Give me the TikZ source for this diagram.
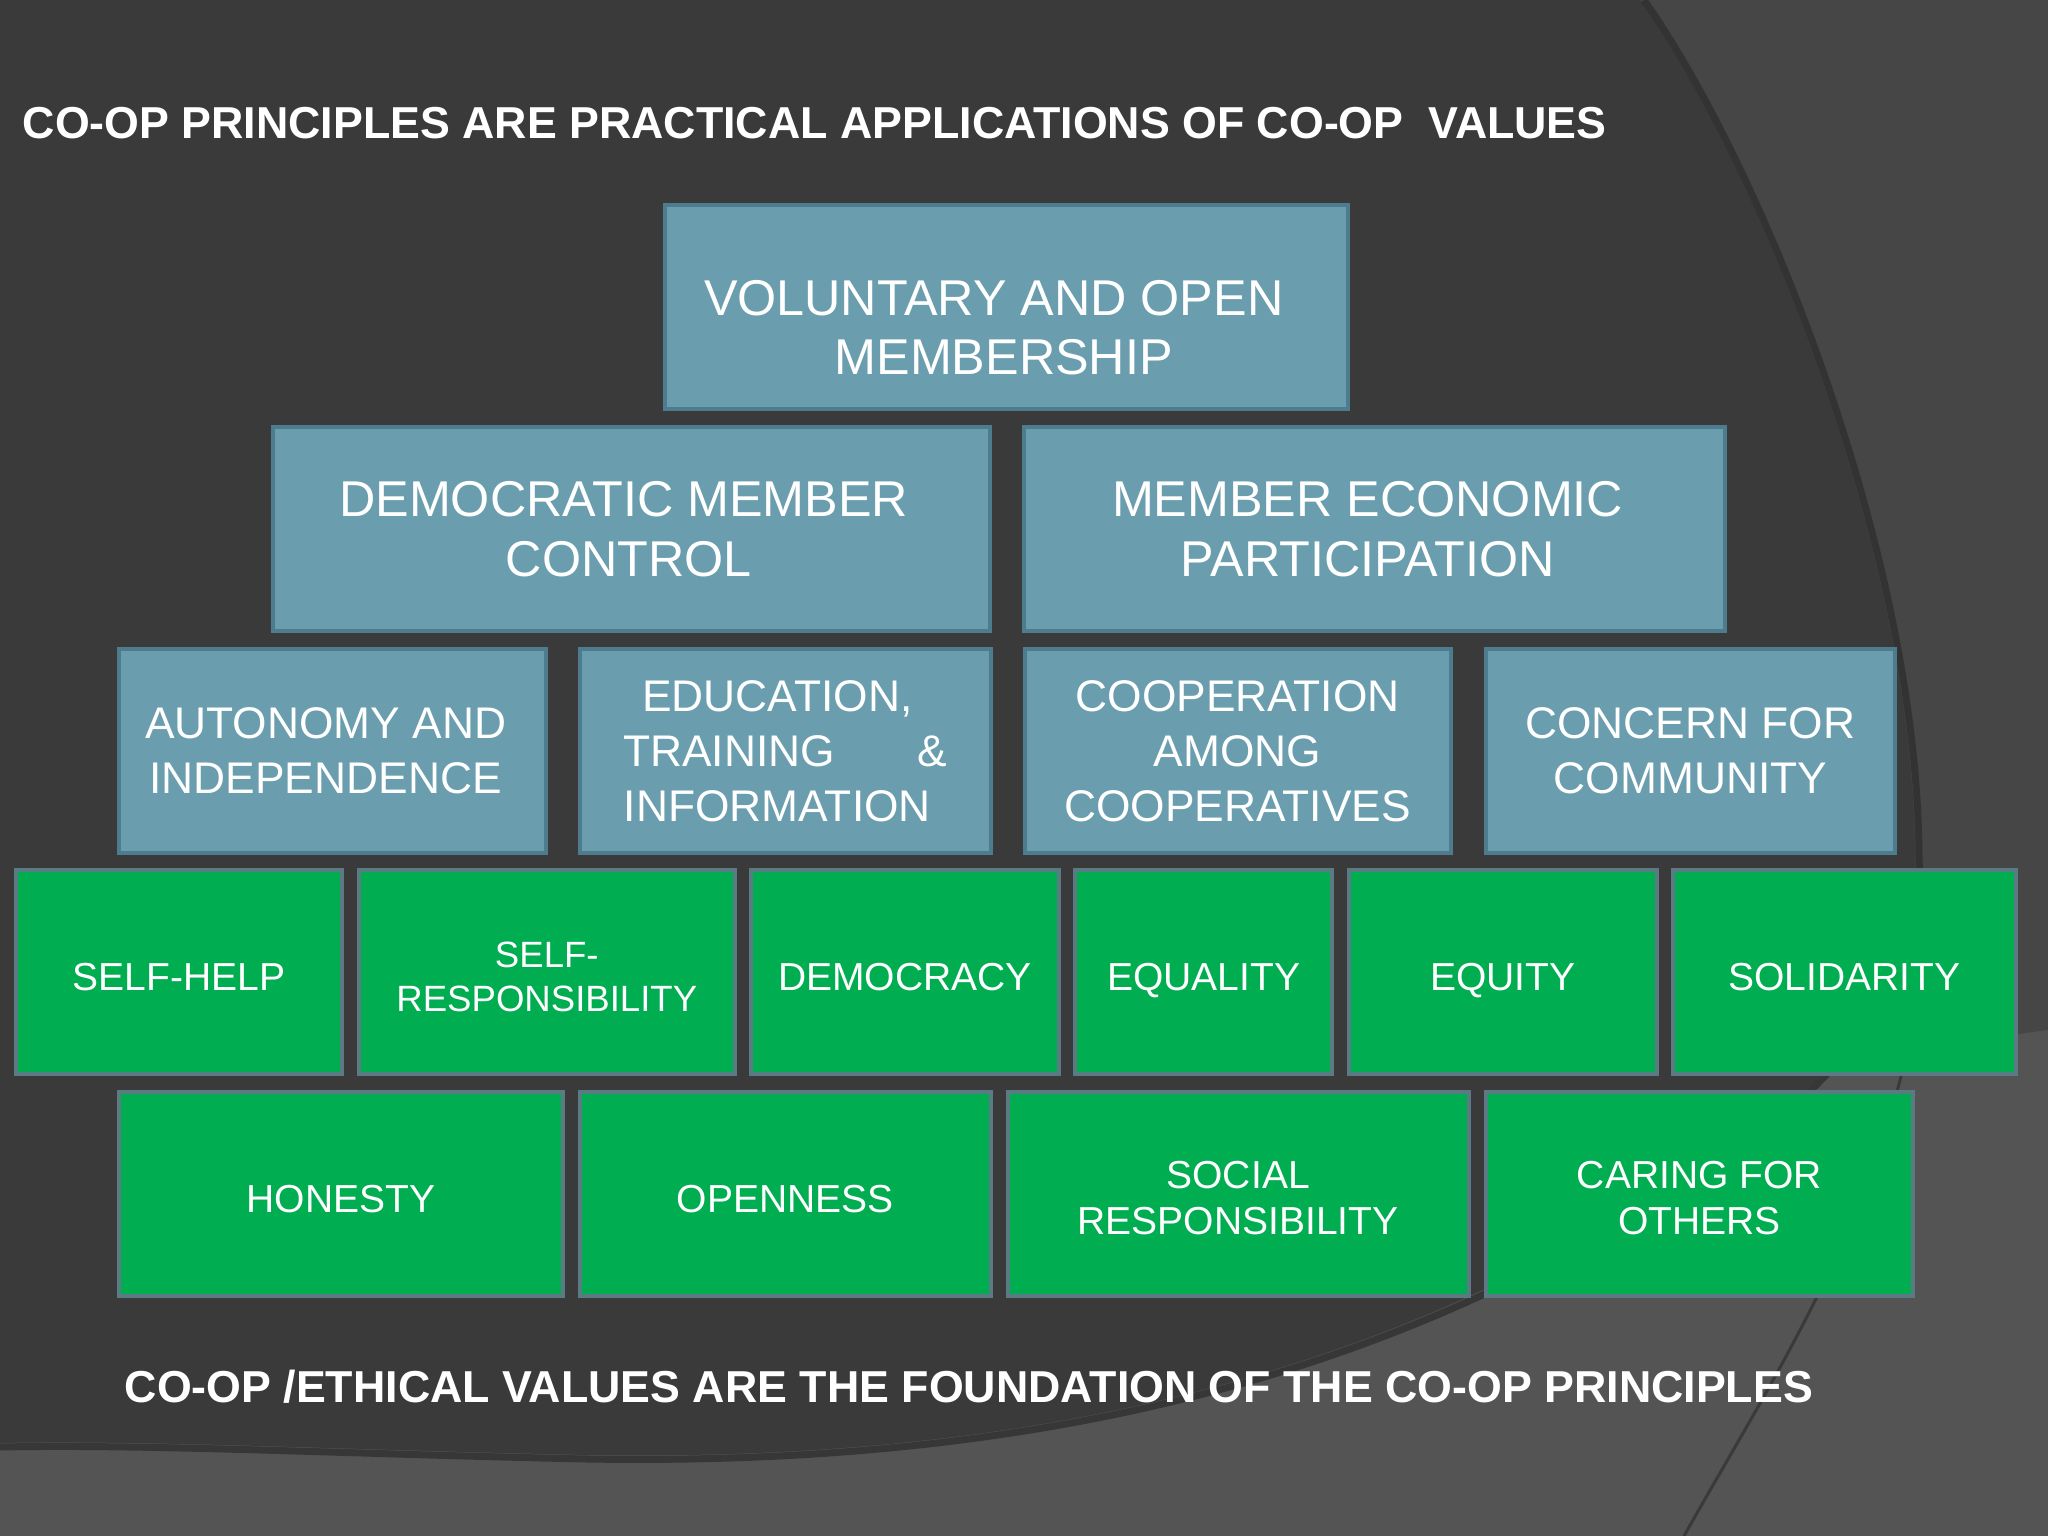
\documentclass[tikz,border=0pt]{standalone}
\usepackage{fontspec}
\setmainfont{Liberation Sans}
\usetikzlibrary{positioning}
\definecolor{bgdark}{RGB}{58,58,59}
\definecolor{bgright}{RGB}{70,70,71}
\definecolor{bglight}{RGB}{84,84,84}
\definecolor{bgshade}{RGB}{44,44,45}
\definecolor{tealfill}{RGB}{106,158,174}
\definecolor{tealline}{RGB}{78,124,143}
\definecolor{greenfill}{RGB}{0,173,80}
\definecolor{greenline}{RGB}{90,122,132}
\tikzstyle{principle} = [rectangle, anchor=north west, minimum height=2.04cm, inner sep=0pt, outer sep=0pt, align=center, text=white, draw=tealline, line width=0.04cm, fill=tealfill]
\tikzstyle{valuebox} = [rectangle, anchor=north west, minimum height=2.04cm, inner sep=0pt, outer sep=0pt, align=center, text=white, draw=greenline, line width=0.04cm, fill=greenfill, font=\fontsize{11.1pt}{13.1pt}\selectfont]
\tikzstyle{oneline} = [text height=0.36cm, text depth=0pt]
\tikzstyle{bigtext} = [font=\fontsize{14.3pt}{17pt}\selectfont]
\tikzstyle{midtext} = [font=\fontsize{12.6pt}{15.6pt}\selectfont]
\tikzstyle{headline} = [anchor=base west, inner sep=0pt, text=white, font=\fontsize{12.72pt}{15pt}\selectfont\bfseries]

\begin{document}
\begin{tikzpicture}[x=0.01cm, y=-0.01cm]
\useasboundingbox (0,0) rectangle (2048,1536);
% Background
\fill[bgright] (0,0) rectangle (2048,1536);
\fill[bglight] (0,1536) -- (0,1300) -- (1900,1050) -- (2048,1030) -- (2048,1536) -- cycle;
\draw[bgdark, line width=0.03cm] (1905,1060) .. controls (1860,1250) and (1760,1400) .. (1684,1536);
\fill[bgdark] (0,0) -- (1640,0) .. controls (1760,170) and (1915,560) .. (1915,860)
  .. controls (1925,1000) and (1800,1150) .. (1476,1293)
  .. controls (1200,1420) and (900,1460) .. (587,1455)
  .. controls (350,1450) and (150,1440) .. (0,1443) -- cycle;
\draw[bgshade, opacity=0.7, line width=0.07cm] (1644,0) .. controls (1764,170) and (1919,560) .. (1919,860)
  .. controls (1929,1000) and (1803,1153) .. (1478,1297)
  .. controls (1200,1424) and (900,1464) .. (587,1459)
  .. controls (350,1454) and (150,1444) .. (0,1447);

% Headlines
\node (toptitle) [headline] at (22,138) {CO-OP PRINCIPLES ARE PRACTICAL APPLICATIONS OF CO-OP~ VALUES};
\node (foottitle) [headline] at (124,1402) {CO-OP /ETHICAL VALUES ARE THE FOUNDATION OF THE CO-OP PRINCIPLES};

% Row 1
\node (vom) [principle, bigtext, minimum width=6.83cm] at (665,205) {\hspace*{-0.26cm}\raisebox{-0.26cm}[\height][\depth]{\begin{tabular}{@{}c@{}}VOLUNTARY AND OPEN\\ \hspace*{0.2cm}MEMBERSHIP\end{tabular}}};
% Row 2
\node (dmc) [principle, bigtext, minimum width=7.17cm] at (273,427) {\hspace*{-0.16cm}DEMOCRATIC MEMBER\\ \hspace*{-0.06cm}CONTROL};
\node (mep) [principle, bigtext, minimum width=7.00cm, right=0.34cm of dmc] {\hspace*{-0.14cm}MEMBER ECONOMIC\\ \hspace*{-0.14cm}PARTICIPATION};
% Row 3
\node (aai) [principle, midtext, minimum width=4.27cm] at (119,649) {\hspace*{-0.14cm}AUTONOMY AND\\ \hspace*{-0.14cm}INDEPENDENCE};
\node (eti) [principle, midtext, minimum width=4.10cm, right=0.34cm of aai] {\hspace*{-0.16cm}EDUCATION,\\ \makebox[3.24cm]{TRAINING\hfill\&}\\ \hspace*{-0.16cm}INFORMATION};
\node (cac) [principle, midtext, minimum width=4.26cm, right=0.34cm of eti] {COOPERATION\\ AMONG\\ COOPERATIVES};
\node (cfc) [principle, midtext, minimum width=4.09cm, right=0.35cm of cac] {CONCERN FOR\\ COMMUNITY};
% Row 4
\node (shp) [valuebox, oneline, minimum width=3.26cm] at (16,870) {SELF-HELP};
\node (srp) [valuebox, minimum width=3.76cm, right=0.165cm of shp, font=\fontsize{10.4pt}{12.5pt}\selectfont, text height=0.80cm] {SELF-\\ RESPONSIBILITY};
\node (dem) [valuebox, oneline, minimum width=3.07cm, right=0.165cm of srp] {DEMOCRACY};
\node (eql) [valuebox, oneline, minimum width=2.57cm, right=0.165cm of dem] {EQUALITY};
\node (eqt) [valuebox, oneline, minimum width=3.08cm, right=0.165cm of eql] {EQUITY};
\node (sol) [valuebox, oneline, minimum width=3.42cm, right=0.165cm of eqt] {SOLIDARITY};
% Row 5
\node (hon) [valuebox, oneline, minimum width=4.44cm] at (119,1092) {HONESTY};
\node (opn) [valuebox, oneline, minimum width=4.10cm, right=0.17cm of hon] {OPENNESS};
\node (soc) [valuebox, minimum width=4.61cm, right=0.17cm of opn, text height=0.81cm] {SOCIAL\\ RESPONSIBILITY};
\node (cfo) [valuebox, minimum width=4.27cm, right=0.17cm of soc, text height=0.81cm] {CARING FOR\\ OTHERS};
\end{tikzpicture}
\end{document}
